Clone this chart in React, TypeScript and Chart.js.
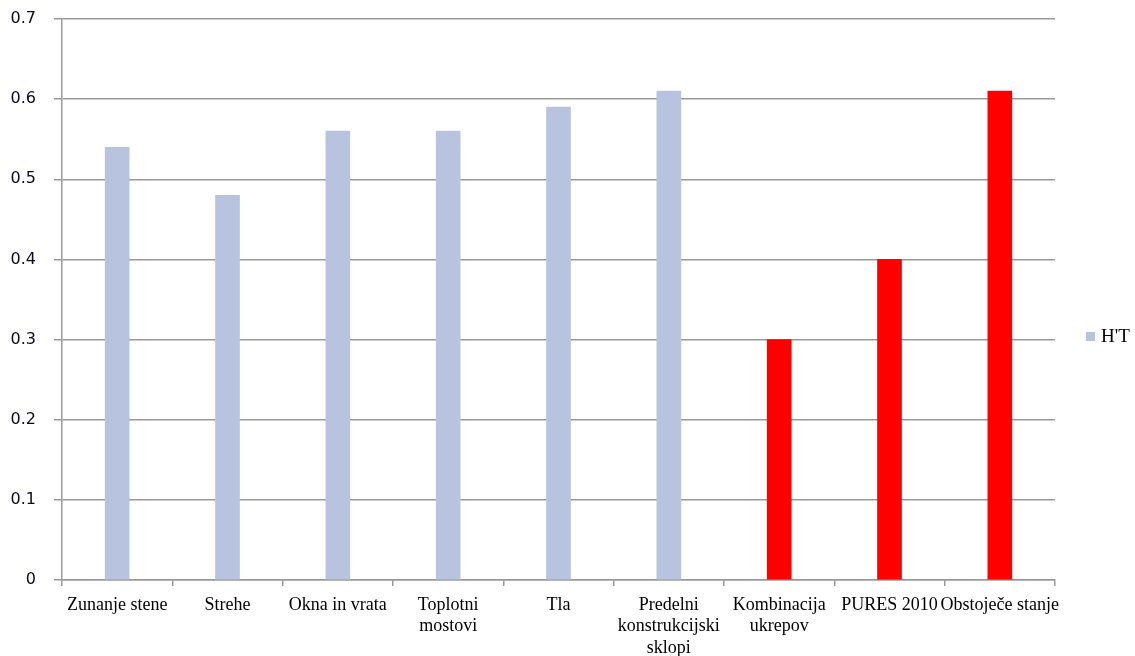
import React, { useEffect, useRef } from "react";
import { Chart, registerables } from "chart.js";

Chart.register(...registerables);

const categories: (string | string[])[] = [
  "Zunanje stene",
  "Strehe",
  "Okna in vrata",
  ["Toplotni", "mostovi"],
  "Tla",
  ["Predelni", "konstrukcijski", "sklopi"],
  ["Kombinacija", "ukrepov"],
  "PURES 2010",
  "Obstoječe stanje",
];
const seriesName = "H'T";
const values = [0.54, 0.48, 0.56, 0.56, 0.59, 0.61, 0.3, 0.4, 0.61];
const yTicks = [0, 0.1, 0.2, 0.3, 0.4, 0.5, 0.6, 0.7];

const BLUE = "#B7C3DF";
const RED = "#FF0000";
const barColors = values.map((_, i) => (i < 6 ? BLUE : RED));

const legendPlugin = {
  id: "customLegend",
  afterDraw(chart: any) {
    const ctx = chart.ctx;
    const area = chart.chartArea;
    const ds = chart.data.datasets[0];
    const y = 337;
    ctx.save();
    ctx.fillStyle = BLUE;
    ctx.fillRect(area.right + 31, y - 5, 9, 9);
    ctx.fillStyle = "#000";
    ctx.font = "19px 'Liberation Serif', serif";
    ctx.textBaseline = "middle";
    ctx.textAlign = "left";
    ctx.fillText(ds.label, area.right + 46, y);
    ctx.restore();
  },
};

export default function App() {
  const ref = useRef<HTMLCanvasElement | null>(null);
  useEffect(() => {
    if (!ref.current) return;
    const chart = new Chart(ref.current, {
      type: "bar",
      data: {
        labels: categories,
        datasets: [
          {
            label: seriesName,
            data: values,
            backgroundColor: barColors,
            borderWidth: 0,
            barThickness: 24,
          },
        ],
      },
      options: {
        responsive: false,
        animation: false,
        layout: { padding: { top: 19, right: 80, left: 0, bottom: 0 } },
        plugins: { legend: { display: false }, tooltip: { enabled: false } },
        scales: {
          x: {
            afterFit: (s: any) => {
              s.height = 76;
              s.paddingLeft = 0;
              s.paddingRight = 0;
            },
            grid: {
              drawOnChartArea: false,
              drawTicks: true,
              tickLength: 6,
              color: "#999",
              lineWidth: 1.5,
            },
            border: { color: "#999", width: 1.5 },
            ticks: {
              color: "#000",
              padding: 8,
              maxRotation: 0,
              autoSkip: false,
              font: { family: "'Liberation Serif', serif", size: 18, lineHeight: 1.2 },
            },
          },
          y: {
            min: 0,
            max: 0.7,
            afterFit: (s: any) => {
              s.width = 62;
              s.paddingTop = 0;
              s.paddingBottom = 0;
            },
            afterBuildTicks: (s: any) => {
              s.ticks = yTicks.map((v) => ({ value: v }));
            },
            grid: { color: "#999", lineWidth: 1.5, tickLength: 8 },
            border: { color: "#999", width: 1.5 },
            ticks: {
              color: "#0a0a1e",
              padding: 18,
              font: { family: "'DejaVu Sans', sans-serif", size: 16 },
              callback: (v: any) => (v === 0 ? "0" : Number(v).toFixed(1)),
            },
          },
        },
      },
      plugins: [legendPlugin],
    });
    return () => chart.destroy();
  }, []);
  return (
    <div style={{ position: "absolute", left: 0, top: 0, width: 1135, height: 656, background: "#fff" }}>
      <canvas ref={ref} width={1135} height={656} />
    </div>
  );
}
